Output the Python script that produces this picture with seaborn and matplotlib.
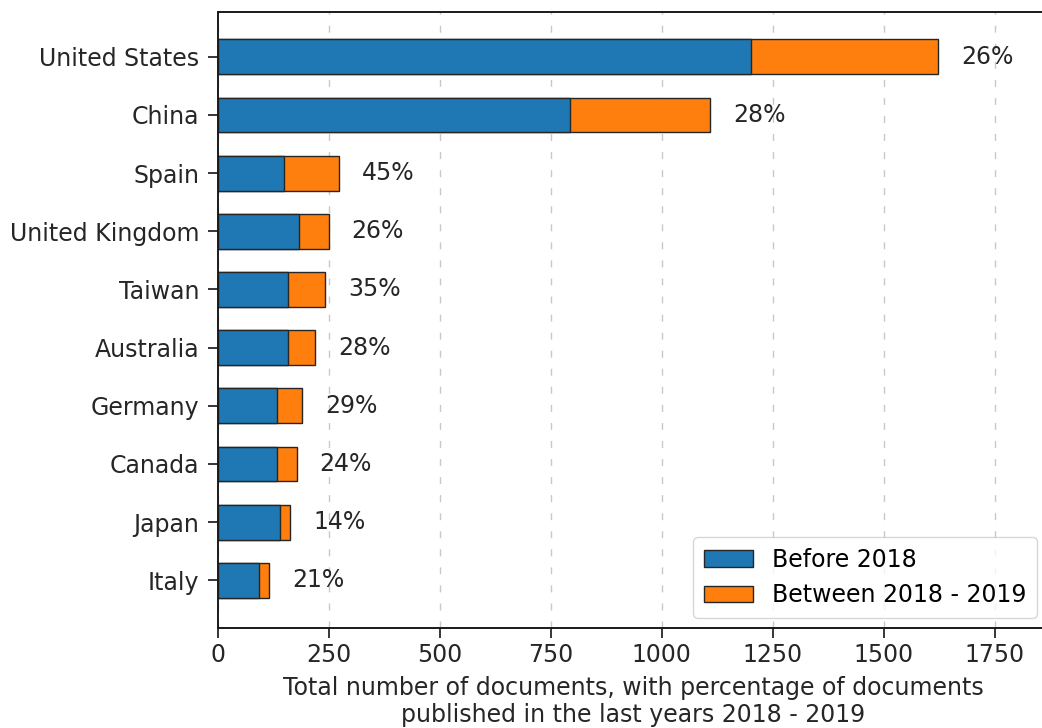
import matplotlib
matplotlib.use("Agg")
import matplotlib.pyplot as plt
import seaborn as sns
import pandas as pd
from matplotlib.patches import Patch

countries = ["United States", "China", "Spain", "United Kingdom", "Taiwan",
             "Australia", "Germany", "Canada", "Japan", "Italy"]
before_2018 = [1200, 794, 149, 183, 157, 157, 134, 134, 139, 92]
between_2018_2019 = [422, 314, 123, 66, 85, 62, 55, 43, 23, 24]
pct_labels = ["26%", "28%", "45%", "26%", "35%", "28%", "29%", "24%", "14%", "21%"]
x_ticks = [0, 250, 500, 750, 1000, 1250, 1500, 1750]

BLUE = "#1f77b4"
ORANGE = "#ff7f0e"
EDGE = "#262626"
FS = 17

df = pd.DataFrame({"country": countries, "before": before_2018,
                   "between": between_2018_2019})
df["total"] = df["before"] + df["between"]

plt.rcParams["font.family"] = ["DejaVu Sans"]
fig = plt.figure(figsize=(10.42, 7.28), dpi=100)
ax = fig.add_axes([218 / 1042, 100 / 728, 830 / 1042, 616 / 728])

sns.barplot(data=df, y="country", x="total", orient="h", color=ORANGE,
            saturation=1, width=0.6, edgecolor=EDGE, linewidth=1.0, ax=ax,
            order=countries)
sns.barplot(data=df, y="country", x="before", orient="h", color=BLUE,
            saturation=1, width=0.6, edgecolor=EDGE, linewidth=1.0, ax=ax,
            order=countries)

for i, (tot, lab) in enumerate(zip(df["total"], pct_labels)):
    ax.text(tot + 52, i, lab, ha="left", va="center", fontsize=FS, color="#262626")

ax.set_xlim(0, 1870)
ax.set_ylim(9.82, -0.77)
ax.set_xticks(x_ticks)
ax.set_xticklabels([str(t) for t in x_ticks])
ax.set_axisbelow(True)
ax.xaxis.grid(True, linestyle=(0, (5, 8)), color="#c8c8c8", linewidth=1.0)
ax.yaxis.grid(False)
ax.set_ylabel("")
ax.set_xlabel("Total number of documents, with percentage of documents\npublished in the last years 2018 - 2019",
              fontsize=FS, color="#262626", labelpad=6)
ax.tick_params(axis="both", labelsize=FS, length=7, width=1.3, colors="#262626")
ax.tick_params(axis="y", pad=6.5)
ax.tick_params(axis="x", pad=4)
for side in ["left", "bottom", "top"]:
    ax.spines[side].set_linewidth(1.4)
    ax.spines[side].set_color("#1a1a1a")
ax.spines["right"].set_visible(False)

handles = [Patch(facecolor=BLUE, edgecolor=EDGE, linewidth=1.0, label="Before 2018"),
           Patch(facecolor=ORANGE, edgecolor=EDGE, linewidth=1.0, label="Between 2018 - 2019")]
leg = ax.legend(handles=handles, loc="lower right", bbox_to_anchor=(1049 / 830 - 218 / 830, -0.003),
                fontsize=FS, frameon=True, fancybox=True, borderpad=0.45,
                handlelength=2.1, handleheight=0.7, labelspacing=0.5)
leg.get_frame().set_edgecolor("#cccccc")

fig.savefig("out.png", dpi=100)
